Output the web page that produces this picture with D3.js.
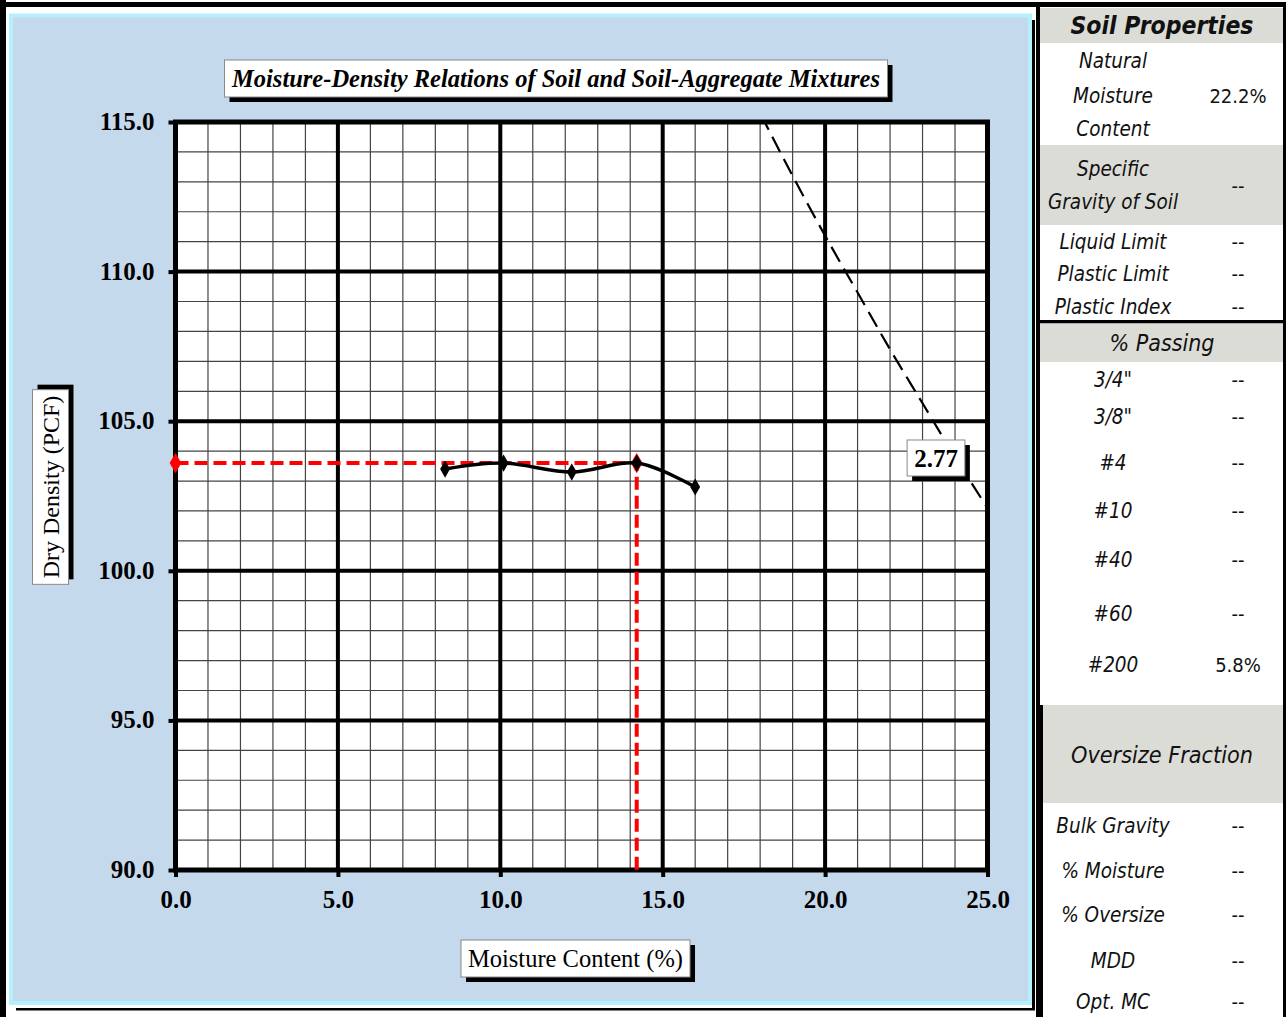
<!DOCTYPE html>
<html><head><meta charset="utf-8">
<script src="https://cdn.jsdelivr.net/npm/d3@7"></script>
<style>body{margin:0;background:#fff;} svg{display:block}</style></head>
<body>
<svg id="c" width="1286" height="1017"></svg>
<script>
// ---- data ----
const moisture = [8.3, 10.1, 12.2, 14.2, 16.0];
const dryDensity = [103.4, 103.6, 103.3, 103.6, 102.8];
const maxDryDensity = 103.6;
const optMoisture = 14.2;
const zavMoisture = [17, 18, 19, 20, 21, 22, 23, 24, 25];
const zavDensity = [117.5, 115.3, 113.2, 111.2, 109.3, 107.4, 105.6, 103.8, 102.1];
const zavLabel = "2.77";
const xTicks = [0, 5, 10, 15, 20, 25];
const yTicks = [90, 95, 100, 105, 110, 115];
const chartTitle = "Moisture-Density Relations of Soil and Soil-Aggregate Mixtures";
const xTitle = "Moisture Content (%)";
const yTitle = "Dry Density (PCF)";
const soilPropLabels = [["Natural","Moisture","Content"], ["Specific","Gravity of Soil"], ["Liquid Limit"], ["Plastic Limit"], ["Plastic Index"]];
const soilPropValues = ["22.2%", "--", "--", "--", "--"];
const sieveLabels = ['3/4"', '3/8"', "#4", "#10", "#40", "#60", "#200"];
const sieveValues = ["--", "--", "--", "--", "--", "--", "5.8%"];
const oversizeLabels = ["Bulk Gravity", "% Moisture", "% Oversize", "MDD", "Opt. MC"];
const oversizeValues = ["--", "--", "--", "--", "--"];

const svg = d3.select("#c");
const serif = "'Liberation Serif','Times New Roman',serif";
const sans = "'DejaVu Sans Condensed','DejaVu Sans',sans-serif";

// ---- outer frame ----
svg.append("rect").attr("x",0).attr("y",0).attr("width",1286).attr("height",1017).attr("fill","#fff");
svg.append("rect").attr("x",0).attr("y",2).attr("width",1286).attr("height",5).attr("fill","#000");
svg.append("rect").attr("x",0).attr("y",0).attr("width",6).attr("height",1017).attr("fill","#000");
// chart panel shadow + panel
svg.append("rect").attr("x",16).attr("y",20).attr("width",1019).attr("height",990.5).attr("fill","#000");
svg.append("rect").attr("x",16).attr("y",20).attr("width",1016).attr("height",988).attr("fill","#fff");
svg.append("rect").attr("x",11).attr("y",15.5).attr("width",1019).attr("height",987.5)
  .attr("fill","#c5d9ec").attr("stroke","#b4f1fd").attr("stroke-width",4);

// ---- scales ----
const x = d3.scaleLinear().domain([0,25]).range([175.5,987.5]);
const y = d3.scaleLinear().domain([90,115]).range([870,122]);

const plot = svg.append("g");
plot.append("rect").attr("x",x(0)).attr("y",y(115)).attr("width",x(25)-x(0)).attr("height",y(90)-y(115)).attr("fill","#fff");
// minor grid
const minorX = x.ticks(25).filter(v => v % 5 !== 0);
const minorY = y.ticks(25).filter(v => v % 5 !== 0);
plot.selectAll(".mx").data(minorX).join("line")
  .attr("x1",d=>x(d)).attr("x2",d=>x(d)).attr("y1",y(115)).attr("y2",y(90))
  .attr("stroke","#444").attr("stroke-width",1.2);
plot.selectAll(".my").data(minorY).join("line")
  .attr("y1",d=>y(d)).attr("y2",d=>y(d)).attr("x1",x(0)).attr("x2",x(25))
  .attr("stroke","#444").attr("stroke-width",1.2);
// major grid
plot.selectAll(".Mx").data(xTicks).join("line")
  .attr("x1",d=>x(d)).attr("x2",d=>x(d)).attr("y1",y(115)).attr("y2",y(90))
  .attr("stroke","#000").attr("stroke-width",4);
plot.selectAll(".My").data(yTicks).join("line")
  .attr("y1",d=>y(d)).attr("y2",d=>y(d)).attr("x1",x(0)).attr("x2",x(25))
  .attr("stroke","#000").attr("stroke-width",4);
plot.append("rect").attr("x",x(0)).attr("y",y(115)).attr("width",x(25)-x(0)).attr("height",y(90)-y(115))
  .attr("fill","none").attr("stroke","#000").attr("stroke-width",5);

// axes
const ax = svg.append("g").attr("transform",`translate(0,${y(90)})`)
  .call(d3.axisBottom(x).tickValues(xTicks).tickFormat(d3.format(".1f")).tickSize(7).tickPadding(13));
const ay = svg.append("g").attr("transform",`translate(${x(0)},0)`)
  .call(d3.axisLeft(y).tickValues(yTicks).tickFormat(d3.format(".1f")).tickSize(7).tickPadding(14));
[ax, ay].forEach(a => {
  a.select(".domain").remove();
  a.selectAll(".tick line").attr("stroke","#000").attr("stroke-width",4);
  a.selectAll(".tick text").attr("fill","#000").style("font-family",serif).style("font-weight","bold").style("font-size","25px");
});
ay.selectAll(".tick text").attr("dy","0.3em");

// clip
svg.append("clipPath").attr("id","pc").append("rect")
  .attr("x",x(0)).attr("y",y(115)).attr("width",x(25)-x(0)).attr("height",y(90)-y(115));

// zero air voids line
const zav = zavMoisture.map((m,i)=>[m, zavDensity[i]]);
svg.append("path").attr("clip-path","url(#pc)")
  .attr("d", d3.line().x(d=>x(d[0])).y(d=>y(d[1])).curve(d3.curveCatmullRom)(zav))
  .attr("fill","none").attr("stroke","#000").attr("stroke-width",2.2).attr("stroke-dasharray","17,8");

// red dashed optimum lines
const redPts = [[0, maxDryDensity],[optMoisture, maxDryDensity],[optMoisture, 90]];
svg.append("path").attr("d", d3.line().x(d=>x(d[0])).y(d=>y(d[1]))(redPts))
  .attr("fill","none").attr("stroke","#ff0000").attr("stroke-width",4).attr("stroke-dasharray","13,6");
const diamond = d3.symbol().type(d3.symbolDiamond);
svg.selectAll(".rm").data([redPts[0], redPts[1]]).join("path")
  .attr("transform",d=>`translate(${x(d[0])},${y(d[1])})`)
  .attr("d", diamond.size(120)()).attr("fill","#ff0000");

// compaction curve
const pts = moisture.map((m,i)=>[m, dryDensity[i]]);
svg.append("path").attr("d", d3.line().x(d=>x(d[0])).y(d=>y(d[1])).curve(d3.curveCardinal.tension(0))(pts))
  .attr("fill","none").attr("stroke","#000").attr("stroke-width",3.5);
svg.selectAll(".bm").data(pts).join("path")
  .attr("transform",d=>`translate(${x(d[0])},${y(d[1])})`)
  .attr("d", diamond.size(85)()).attr("fill","#000");

// boxed labels
function boxLabel(cx, cy, text, font, rot, pad, hgt) {
  const g = svg.append("g").attr("transform",`translate(${cx},${cy}) rotate(${rot||0})`);
  const sh = g.append("rect").attr("fill","#000");
  const bx = g.append("rect").attr("fill","#fff").attr("stroke","#888").attr("stroke-width",1);
  const t = g.append("text").text(text).attr("text-anchor","middle").attr("dy","0.35em")
    .attr("fill","#000").attr("style",font);
  const bb = t.node().getBBox();
  const w = bb.width + pad*2, h = hgt;
  sh.attr("x",-w/2+5).attr("y",-h/2+5).attr("width",w).attr("height",h);
  bx.attr("x",-w/2).attr("y",-h/2).attr("width",w).attr("height",h);
}
boxLabel(556, 78.5, chartTitle, `font-family:${serif};font-weight:bold;font-style:italic;font-size:24.5px`, 0, 7, 37);
boxLabel(575.5, 958.5, xTitle, `font-family:${serif};font-size:24.5px`, 0, 7, 37);
boxLabel(50.5, 487, yTitle, `font-family:${serif};font-size:24px`, -90, 6, 36);
boxLabel(936, 458, zavLabel, `font-family:${serif};font-weight:bold;font-size:25px`, 0, 7, 36);

// ---- right table ----
const T = svg.append("g");
const gray = "#dcdcd7";
T.append("rect").attr("x",1036).attr("y",7).attr("width",250).attr("height",1010).attr("fill","#000");
T.append("rect").attr("x",1040).attr("y",7).attr("width",243).attr("height",1010).attr("fill","#fff");
T.append("rect").attr("x",1040).attr("y",8).attr("width",243).attr("height",35).attr("fill",gray);
T.append("rect").attr("x",1040).attr("y",145).attr("width",243).attr("height",80).attr("fill",gray);
T.append("rect").attr("x",1036).attr("y",320).attr("width",250).attr("height",3.5).attr("fill","#000");
T.append("rect").attr("x",1040).attr("y",323.5).attr("width",243).attr("height",38.5).attr("fill",gray);
T.append("rect").attr("x",1036).attr("y",705).attr("width",7).attr("height",312).attr("fill","#000");
T.append("rect").attr("x",1043).attr("y",705).attr("width",240).attr("height",98).attr("fill",gray);

function tt(xp, yp, s, style) {
  T.append("text").attr("x",xp).attr("y",yp).attr("dy","0.35em").attr("text-anchor","middle")
    .attr("fill","#111").attr("style",`font-family:${sans};${style}`).text(s);
}
const lx = 1113, vx = 1238;
const it = "font-style:italic;font-size:20.5px";
const rg = "font-size:20px";
tt(1162, 25, "Soil Properties", "font-style:italic;font-weight:bold;font-size:24.5px");
const spY = [[61,96,129],[169,202],[242],[274],[307]];
const spVY = [96,186,242,274,307];
soilPropLabels.forEach((lines,i)=>{
  lines.forEach((l,j)=>tt(lx, spY[i][j], l, it));
  tt(vx, spVY[i], soilPropValues[i], rg);
});
tt(1162, 343, "% Passing", "font-style:italic;font-size:23px");
const svY = [380,417,463,511,560,614,665];
sieveLabels.forEach((l,i)=>{ tt(lx, svY[i], l, it); tt(vx, svY[i], sieveValues[i], rg); });
tt(1162, 755, "Oversize Fraction", "font-style:italic;font-size:23.2px");
const ovY = [826,871,915,961,1002];
oversizeLabels.forEach((l,i)=>{ tt(lx, ovY[i], l, it); tt(vx, ovY[i], oversizeValues[i], rg); });
</script>
</body></html>
